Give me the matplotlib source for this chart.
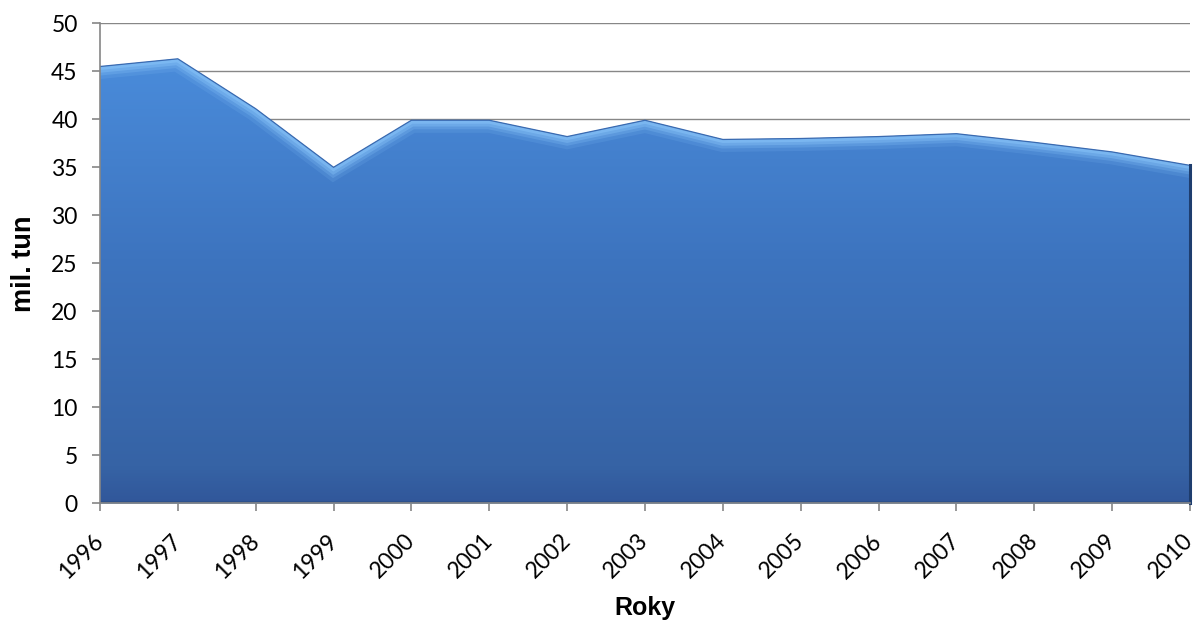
import numpy as np
import matplotlib
matplotlib.use("Agg")
import matplotlib.pyplot as plt
from matplotlib.colors import LinearSegmentedColormap
from matplotlib.patches import PathPatch
from matplotlib.path import Path

# Annual volumes (million tonnes)
years = [1996, 1997, 1998, 1999, 2000, 2001, 2002, 2003,
         2004, 2005, 2006, 2007, 2008, 2009, 2010]
values = [45.5, 46.3, 41.1, 35.0, 39.9, 39.9, 38.2, 39.9,
          37.9, 38.0, 38.2, 38.5, 37.6, 36.6, 35.2]
year_labels = [str(y) for y in years]
y_ticks = list(range(0, 55, 5))

x_label = "Roky"
y_label = "mil. tun"

fig = plt.figure(figsize=(11.97, 6.21), dpi=100)
ax = fig.add_axes([0.0835, 0.1895, 0.9107, 0.773])

ax.set_xlim(years[0], years[-1])
ax.set_ylim(0, 50)

# horizontal gridlines behind the area
ax.set_axisbelow(True)
ax.yaxis.grid(True, color="#878787", linewidth=1.0)
ax.xaxis.grid(False)

# area outline used for clipping the gradient and bevel
ax.fill_between(years, values, 0, color="#4282D0", linewidth=0, zorder=2)
verts = [(years[0], 0)] + list(zip(years, values)) + [(years[-1], 0), (years[0], 0)]
codes = [Path.MOVETO] + [Path.LINETO] * (len(verts) - 2) + [Path.CLOSEPOLY]
area_path = Path(verts, codes)
clip_patch = PathPatch(area_path, transform=ax.transData, facecolor="none", edgecolor="none")
ax.add_patch(clip_patch)

# vertical gradient fill
cmap = LinearSegmentedColormap.from_list(
    "area", [(0.0, "#31579A"), (0.08, "#3663A5"), (0.55, "#3D74BF"), (1.0, "#4A8CDB")])
grad = np.linspace(0, 1, 256).reshape(-1, 1)
im = ax.imshow(grad, cmap=cmap, origin="lower", aspect="auto",
               extent=[years[0], years[-1], 0, max(values)], zorder=3,
               interpolation="bicubic")
im.set_clip_path(clip_patch)

# soft bevel along the top edge
for lw, a in [(18, 0.15), (13, 0.25), (9, 0.4), (5, 0.55)]:
    ln, = ax.plot(years, values, color="#86C2F8", linewidth=lw, alpha=a,
                  solid_joinstyle="miter", zorder=4)
    ln.set_clip_path(clip_patch)
ax.plot(years, values, color="#3A6AB0", linewidth=0.9, zorder=5,
        solid_joinstyle="miter")

# shadow at the right edge and along the bottom
ax.plot([years[-1], years[-1]], [0, values[-1]], color="#1E3D6E",
        linewidth=2.2, zorder=5, clip_on=False)
ax.plot([years[0], years[-1]], [0.15, 0.15], color="#2A4E86",
        linewidth=2.0, alpha=0.7, zorder=5)

# axes styling
for side in ("top", "right"):
    ax.spines[side].set_visible(False)
for side in ("left", "bottom"):
    ax.spines[side].set_color("#868686")
    ax.spines[side].set_linewidth(1.2)
ax.spines["left"].set_zorder(6)
ax.spines["bottom"].set_zorder(6)

ax.tick_params(axis="y", direction="out", length=6, width=1.2, color="#868686",
               pad=10, labelsize=16.5, labelcolor="#000000")
ax.tick_params(axis="x", direction="out", length=6, width=1.2, color="#868686",
               pad=0, labelsize=16.5, labelcolor="#000000")

ax.set_yticks(y_ticks)
ax.set_yticklabels([str(v) for v in y_ticks], fontfamily="Lato")
ax.set_xticks(years)
# year labels end just below-right of each tick
ax.set_xticklabels(year_labels, rotation=45, ha="right", va="center",
                   rotation_mode="anchor", fontfamily="Lato")
for lab in ax.get_xticklabels():
    lab.set_y(-0.054)

ax.set_xlabel(x_label, fontsize=18, fontweight="bold", family="Liberation Sans")
ax.xaxis.set_label_coords(0.5, -0.193)
ax.set_ylabel(y_label, fontsize=19.5, fontweight="bold", family="Liberation Sans",
              labelpad=10)

fig.savefig("out.png", dpi=100, facecolor="white")
